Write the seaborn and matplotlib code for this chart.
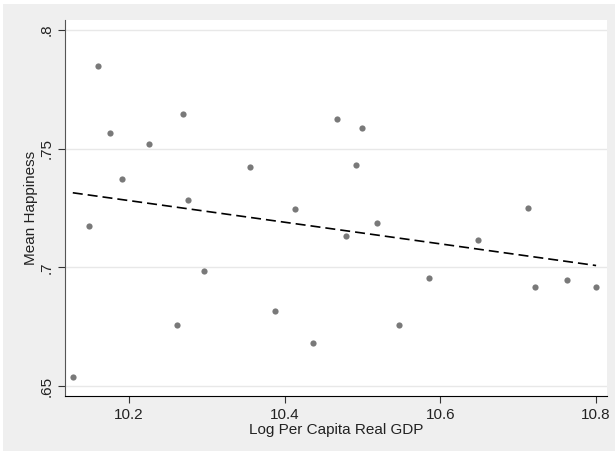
import matplotlib
matplotlib.use("Agg")
import matplotlib.pyplot as plt
import seaborn as sns
import pandas as pd
import numpy as np
from matplotlib.patches import Rectangle

log_gdp = [10.128, 10.149, 10.160, 10.176, 10.191, 10.226, 10.262, 10.269, 10.276,
           10.296, 10.356, 10.388, 10.413, 10.436, 10.467, 10.479, 10.492, 10.500,
           10.519, 10.547, 10.586, 10.648, 10.713, 10.722, 10.762, 10.800]
happiness = [0.6538, 0.7174, 0.7848, 0.7566, 0.7372, 0.7520, 0.6757, 0.7646, 0.7284,
             0.6985, 0.7423, 0.6816, 0.7246, 0.6682, 0.7625, 0.7134, 0.7431, 0.7587,
             0.7187, 0.6757, 0.6957, 0.7117, 0.7249, 0.6919, 0.6948, 0.6919]
x_ticks = [10.2, 10.4, 10.6, 10.8]
y_ticks = [0.65, 0.7, 0.75, 0.8]
y_labels = [".65", ".7", ".75", ".8"]

df = pd.DataFrame({'gdp': log_gdp, 'happy': happiness})

sns.set_style("white")
plt.rcParams['font.family'] = ['Liberation Sans', 'DejaVu Sans']

fig = plt.figure(figsize=(6.15, 4.54), dpi=100, facecolor='white')
# stata-like grey background panel
fig.patches.append(Rectangle((3 / 615, 3 / 454), 612 / 615, 447 / 454,
                             transform=fig.transFigure, facecolor='#efefef',
                             edgecolor='none', zorder=-10))
ax = fig.add_axes([65 / 615, 58 / 454, 542 / 615, 376 / 454])
ax.set_facecolor('white')

for yt in y_ticks:
    ax.axhline(yt, color='#e8e8e8', lw=1, zorder=0)

sns.regplot(x='gdp', y='happy', data=df, ci=None, ax=ax,
            scatter_kws={'s': 20, 'color': '#575757', 'linewidths': 0},
            line_kws={'color': 'black', 'lw': 1.2, 'ls': (0, (6, 3))})

ax.set_xlim(10.118, 10.814)
ax.set_ylim(0.6458, 0.8042)
ax.set_xticks(x_ticks)
ax.set_xticklabels([str(t) for t in x_ticks])
ax.set_yticks(y_ticks)
ax.set_yticklabels(y_labels, rotation=90, va='center')
ax.tick_params(axis='both', direction='out', length=5, width=0.8, colors='#333333',
               labelsize=11, labelcolor='#222222', bottom=True, left=True)

ax.set_xlabel("Log Per Capita Real GDP", fontsize=11, color='#222222', labelpad=1)
ax.set_ylabel("Mean Happiness", fontsize=11, color='#222222', labelpad=1)

ax.spines['top'].set_visible(False)
ax.spines['right'].set_visible(False)
ax.spines['left'].set_color('#555555')
ax.spines['bottom'].set_color('black')

plt.savefig("out.png", dpi=100, facecolor=fig.get_facecolor())
